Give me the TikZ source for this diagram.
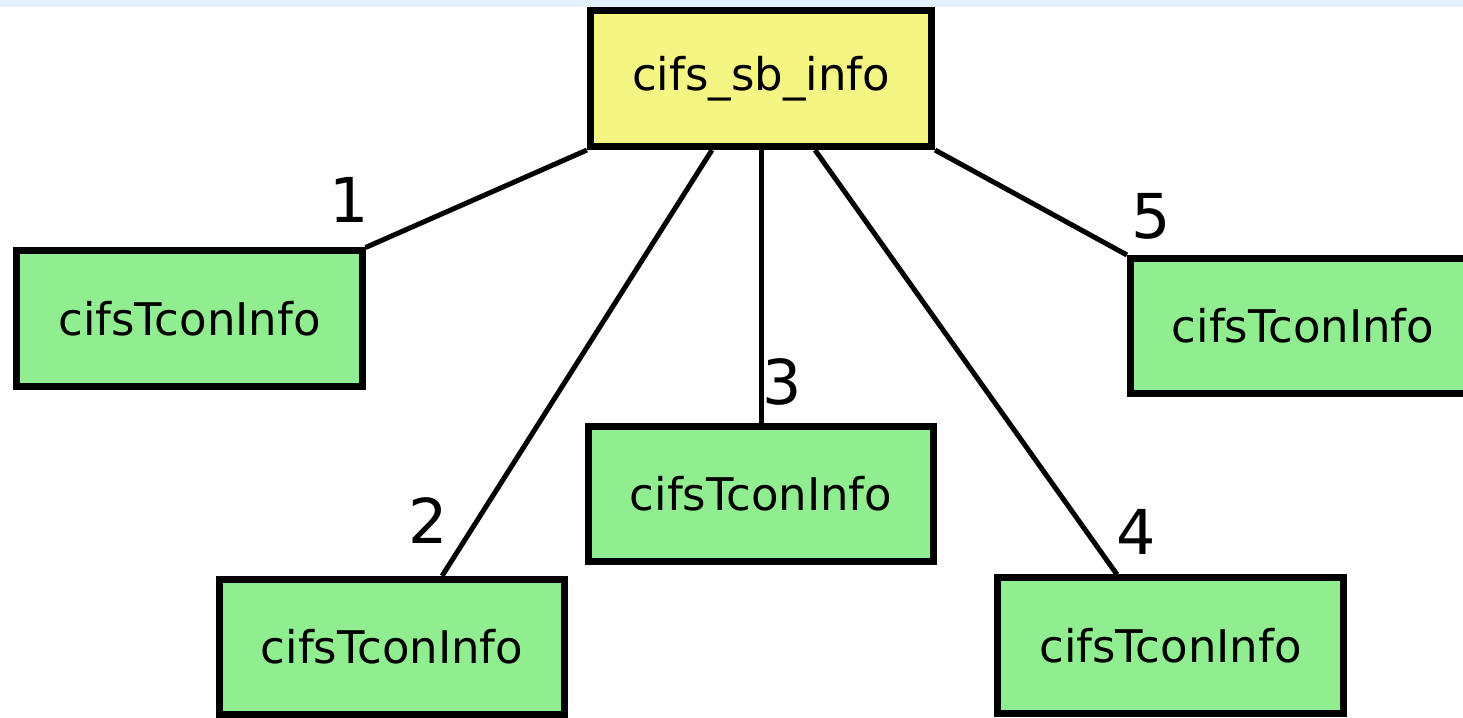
\documentclass[tikz,border=0pt]{standalone}
\usepackage{fontspec}
\setmainfont{DejaVu Sans}
\usetikzlibrary{positioning}
\definecolor{SbYellow}{HTML}{F5F584}
\definecolor{TconGreen}{HTML}{90EE90}
\definecolor{TopStrip}{HTML}{E3F1FE}

\begin{document}
\begin{tikzpicture}[x=0.01cm,y=-0.01cm,
    sbbox/.style={draw=black, line width=0.07cm, fill=SbYellow, inner sep=0pt,
        minimum width=3.41cm, minimum height=1.36cm, font=\fontsize{12.8pt}{15pt}\selectfont},
    tconbox/.style={draw=black, line width=0.07cm, fill=TconGreen, inner sep=0pt,
        minimum width=3.45cm, minimum height=1.35cm, font=\fontsize{12.8pt}{15pt}\selectfont},
    conn/.style={draw=black, line width=0.05cm},
    numlbl/.style={inner sep=0pt, font=\fontsize{17.6pt}{20pt}\selectfont}]
    \useasboundingbox (0,0) rectangle (1463,717);
    \clip (0,0) rectangle (1463,717);
    \fill[TopStrip] (0,0) rectangle (1463,7);

%   boxes
    \node[sbbox] (sb) at (761,78.5) {cifs\_sb\_info};
    \node[tconbox] (tcon1) at (189.5,318.5) {cifsTconInfo};
    \node[tconbox] (tcon2) at (392,647) {cifsTconInfo};
    \node[tconbox] (tcon3) at (761,494) {cifsTconInfo};
    \node[tconbox] (tcon4) at (1170.5,645.5) {cifsTconInfo};
    \node[tconbox] (tcon5) at (1303,326) {cifsTconInfo};

%   links
    \draw[conn] (sb.south west) -- (tcon1.north east);
    \draw[conn] ([xshift=-0.49cm]sb.south) -- ([xshift=0.5cm]tcon2.north);
    \draw[conn] (sb.south) -- (tcon3.north);
    \draw[conn] ([xshift=0.54cm]sb.south) -- ([xshift=-0.535cm]tcon4.north);
    \draw[conn] (sb.south east) -- (tcon5.north west);

%   numbers
    \node[numlbl] (n1) at (349,199.5) {1};
    \node[numlbl] (n2) at (428,521) {2};
    \node[numlbl] (n3) at (782.5,382) {3};
    \node[numlbl] (n4) at (1136,532) {4};
    \node[numlbl] (n5) at (1151,216.5) {5};
\end{tikzpicture}
\end{document}
